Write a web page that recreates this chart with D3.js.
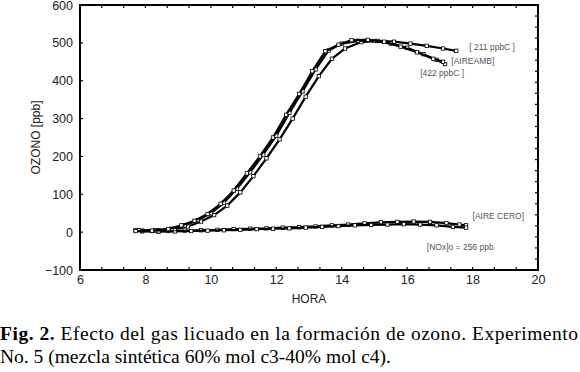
<!DOCTYPE html>
<html>
<head>
<meta charset="utf-8">
<script src="https://cdnjs.cloudflare.com/ajax/libs/d3/7.8.5/d3.min.js"></script>
<style>
  body { margin:0; background:#fff; }
  svg { display:block; }
  .axis text { font-family: "Liberation Sans", Arial, sans-serif; font-size:12.5px; fill:#222; }
  .lbl { font-family: "Liberation Sans", Arial, sans-serif; font-size:8.5px; fill:#555; }
  .cap { font-family: "Liberation Serif", "Times New Roman", serif; font-size:19.5px; fill:#000; }
</style>
</head>
<body>
<script>

// hours and ozone (ppb)
var t_422  = [7.7, 8.2, 8.7, 9.1, 9.5, 9.9, 10.3, 10.7, 11.1, 11.5, 11.9, 12.3, 12.7, 13.1, 13.5, 13.9, 14.3, 14.8, 15.3, 15.8, 16.3, 16.8, 17.1];
var o_422  = [3, 4, 8, 18, 30, 48, 75, 110, 155, 200, 250, 310, 365, 425, 478, 495, 507, 508, 503, 490, 475, 458, 450];

var t_amb  = [7.8, 8.3, 8.8, 9.2, 9.6, 10.0, 10.4, 10.8, 11.2, 11.6, 12.0, 12.4, 12.8, 13.2, 13.6, 14.0, 14.5, 15.0, 15.5, 16.0, 16.5, 16.9, 17.16];
var o_amb  = [5, 5, 9, 18, 32, 50, 78, 115, 158, 205, 255, 315, 372, 430, 480, 498, 505, 505, 498, 487, 470, 455, 444];

var t_211  = [7.9, 8.4, 8.9, 9.3, 9.7, 10.1, 10.5, 10.9, 11.3, 11.7, 12.1, 12.5, 12.9, 13.3, 13.7, 14.1, 14.6, 15.1, 15.6, 16.1, 16.6, 17.1, 17.5];
var o_211  = [4, 5, 8, 15, 28, 45, 70, 105, 148, 195, 245, 300, 358, 412, 458, 485, 502, 505, 503, 498, 492, 485, 479];

var t_cero1 = [7.7, 8.2, 8.7, 9.2, 9.7, 10.2, 10.7, 11.2, 11.7, 12.2, 12.7, 13.2, 13.7, 14.2, 14.7, 15.2, 15.7, 16.2, 16.7, 17.2, 17.6, 17.8];
var o_cero1 = [5, 3, 3, 4, 5, 6, 8, 9, 10, 12, 13, 15, 18, 20, 23, 26, 27, 28, 27, 24, 20, 18];

var t_cero2 = [7.9, 8.4, 8.9, 9.4, 9.9, 10.4, 10.9, 11.4, 11.9, 12.4, 12.9, 13.4, 13.9, 14.4, 14.9, 15.4, 15.9, 16.4, 16.9, 17.4, 17.8];
var o_cero2 = [2, 1, 2, 3, 4, 5, 6, 8, 9, 10, 12, 14, 16, 18, 19, 20, 21, 20, 18, 14, 12];

var xTicks = [6, 8, 10, 12, 14, 16, 18, 20];
var yTicks = [-100, 0, 100, 200, 300, 400, 500, 600];

var window_w = 580;
var window_h = 372;
var margin = {left:80, top:5, right:42, bottom:102};
var frame_w = window_w - margin.left - margin.right;
var frame_h = window_h - margin.top - margin.bottom;

var xScale = d3.scaleLinear().domain([6, 20]).range([0, frame_w]);
var yScale = d3.scaleLinear().domain([-100, 600]).range([frame_h, 0]);

var svg = d3.select("body").append("svg").attr("width", window_w).attr("height", window_h);
var g = svg.append("g").attr("transform", "translate(" + margin.left + "," + margin.top + ")");

// minor ticks every 2/3 hour, inside the frame, top and bottom
var minorX = d3.range(0, 22).map(function (i) { return 6 + i * 2 / 3; }).filter(function (v) { return v > 6.1 && v < 19.9; });
var minorYR = d3.range(1, 24).map(function (i) { return -100 + i * 700 / 24; });

var xAxis = d3.axisBottom(xScale).tickValues(xTicks).tickSize(0).tickPadding(5).tickFormat(d3.format("d"));
var yAxis = d3.axisLeft(yScale).tickValues(yTicks).tickSize(0).tickPadding(7).tickFormat(d3.format("d"));

g.append("g").attr("class", "x axis").attr("transform", "translate(0," + frame_h + ")").call(xAxis)
  .call(function (s) { s.select(".domain").remove(); });
g.append("g").attr("class", "y axis").call(yAxis)
  .call(function (s) { s.select(".domain").remove(); });

g.selectAll(".xb").data(minorX).enter().append("line")
  .attr("x1", function (d) { return xScale(d); }).attr("x2", function (d) { return xScale(d); })
  .attr("y1", frame_h).attr("y2", frame_h - 3).attr("stroke", "#000").attr("stroke-width", 1.2);
g.selectAll(".xt").data(minorX).enter().append("line")
  .attr("x1", function (d) { return xScale(d); }).attr("x2", function (d) { return xScale(d); })
  .attr("y1", 0).attr("y2", 3).attr("stroke", "#000").attr("stroke-width", 1.2);
g.selectAll(".yl").data(yTicks.slice(1, -1)).enter().append("line")
  .attr("x1", 0).attr("x2", 3)
  .attr("y1", function (d) { return yScale(d); }).attr("y2", function (d) { return yScale(d); })
  .attr("stroke", "#000").attr("stroke-width", 1.2);
g.selectAll(".yr").data(minorYR).enter().append("line")
  .attr("x1", frame_w).attr("x2", frame_w - 3)
  .attr("y1", function (d) { return yScale(d); }).attr("y2", function (d) { return yScale(d); })
  .attr("stroke", "#000").attr("stroke-width", 1.2);

g.append("rect").attr("x", 0).attr("y", 0).attr("width", frame_w).attr("height", frame_h)
  .attr("fill", "none").attr("stroke", "#000").attr("stroke-width", 2);

var series = [
  [t_cero1, o_cero1], [t_cero2, o_cero2],
  [t_211, o_211], [t_amb, o_amb], [t_422, o_422]
];

var line = d3.line()
  .x(function (d) { return xScale(d[0]); })
  .y(function (d) { return yScale(d[1]); })
  .curve(d3.curveLinear);

series.forEach(function (s) {
  var pts = s[0].map(function (t, i) { return [t, s[1][i]]; });
  g.append("path").attr("d", line(pts)).attr("fill", "none")
    .attr("stroke", "#000").attr("stroke-width", 2.2);
  g.selectAll(null).data(pts).enter().append("rect")
    .attr("x", function (d) { return xScale(d[0]) - 1.7; })
    .attr("y", function (d) { return yScale(d[1]) - 1.7; })
    .attr("width", 3.4).attr("height", 3.4)
    .attr("fill", "#fff").attr("stroke", "#000").attr("stroke-width", 0.8);
});

// series labels
var labels = [
  ["[ 211 ppbC ]", 17.9, 482],
  ["[AIREAMB]", 17.35, 445],
  ["[422 ppbC ]", 16.4, 413],
  ["[AIRE CERO]", 18.0, 35],
  ["[NOx]o  =  256 ppb", 16.6, -47]
];
g.selectAll(".lbl").data(labels).enter().append("text")
  .attr("class", "lbl")
  .attr("x", function (d) { return xScale(d[1]); })
  .attr("y", function (d) { return yScale(d[2]); })
  .text(function (d) { return d[0]; });

g.append("text")
  .attr("transform", "rotate(-90)")
  .attr("x", 0 - yScale(250))
  .attr("y", -40)
  .style("text-anchor", "middle")
  .style("font-family", "Liberation Sans, Arial, sans-serif")
  .style("font-size", "12px").style("fill", "#222")
  .text("OZONO [ppb]");

g.append("text")
  .attr("x", xScale(13))
  .attr("y", frame_h + 33)
  .style("text-anchor", "middle")
  .style("font-family", "Liberation Sans, Arial, sans-serif")
  .style("font-size", "12px").style("fill", "#222")
  .text("HORA");

// caption
var cap1 = svg.append("text").attr("class", "cap").attr("x", 0).attr("y", 340)
  .attr("textLength", 578).attr("lengthAdjust", "spacing");
cap1.append("tspan").style("font-weight", "bold").text("Fig. 2.");
cap1.append("tspan").text(" Efecto del gas licuado en la formación de ozono. Experimento");
svg.append("text").attr("class", "cap").attr("x", 0).attr("y", 363)
  .text("No. 5 (mezcla sintética 60% mol c3-40% mol c4).");

</script>
</body>
</html>
